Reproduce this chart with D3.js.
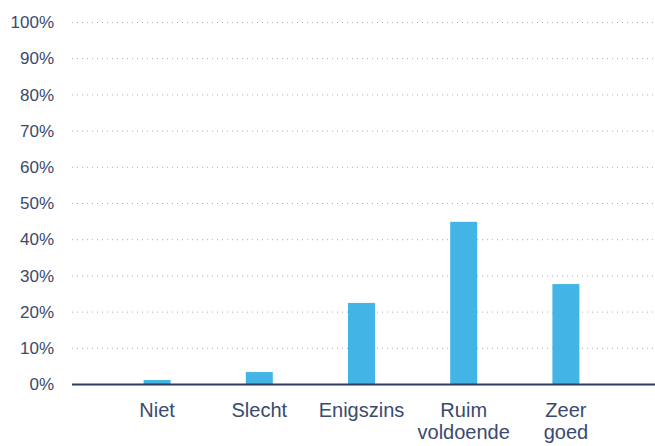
<html>
<head>
<script src="https://cdnjs.cloudflare.com/ajax/libs/d3/7.8.5/d3.min.js"></script>
<style>
  body { margin: 0; background: #fff; }
  text { font-family: "Liberation Sans", Arial, sans-serif; fill: #3a4a6e; }
</style>
</head>
<body>
<div id="vis_container"></div>
<script>
    // data
    var categories = ["Niet", "Slecht", "Enigszins", "Ruim voldoende", "Zeer goed"];
    var values = [1.1, 3.3, 22.4, 44.8, 27.6];
    var yTicks = [0, 10, 20, 30, 40, 50, 60, 70, 80, 90, 100];

    var width = 655, height = 446;
    var plotLeft = 72, plotRight = 655, plotTop = 22, base = 384;

    var svg = d3.select("#vis_container")
                .append("svg")
                .attr("width", width)
                .attr("height", height);

    var x = d3.scaleBand()
        .domain(categories)
        .range([106, 617])
        .paddingInner(0.736)
        .paddingOuter(0.368);

    var y = d3.scaleLinear()
        .domain([0, 100])
        .range([base, plotTop]);

    // gridlines
    svg.append("g").selectAll("line")
        .data(yTicks.filter(function(d) { return d > 0; }))
        .enter().append("line")
        .attr("x1", plotLeft).attr("x2", plotRight)
        .attr("y1", function(d) { return y(d) + 0.5; })
        .attr("y2", function(d) { return y(d) + 0.5; })
        .style("stroke", "#a3a9c4")
        .style("stroke-width", 1)
        .style("stroke-dasharray", "1,4");

    // y tick labels
    svg.append("g").selectAll("text")
        .data(yTicks)
        .enter().append("text")
        .attr("x", 54)
        .attr("y", function(d) { return y(d); })
        .attr("dy", "0.36em")
        .attr("text-anchor", "end")
        .style("font-size", "17px")
        .text(function(d) { return d + "%"; });

    // bars
    svg.append("g").selectAll("rect")
        .data(values)
        .enter().append("rect")
        .attr("x", function(d, i) { return x(categories[i]); })
        .attr("width", x.bandwidth())
        .attr("y", function(d) { return y(d); })
        .attr("height", function(d) { return base - y(d); })
        .style("fill", "#42b4e6");

    // baseline
    svg.append("line")
        .attr("x1", plotLeft).attr("x2", plotRight)
        .attr("y1", base + 0.5).attr("y2", base + 0.5)
        .style("stroke", "#2d3c5e")
        .style("stroke-width", 2);

    // x labels
    var lab = svg.append("g").selectAll("text")
        .data(categories)
        .enter().append("text")
        .attr("text-anchor", "middle")
        .attr("transform", function(d) {
            return "translate(" + (x(d) + x.bandwidth() / 2) + ",417)";
        })
        .style("font-size", "20px");

    lab.selectAll("tspan")
        .data(function(d) { return d.split(" "); })
        .enter().append("tspan")
        .attr("x", 0)
        .attr("dy", function(d, i) { return i ? 22 : 0; })
        .text(function(d) { return d; });
</script>
</body>
</html>
